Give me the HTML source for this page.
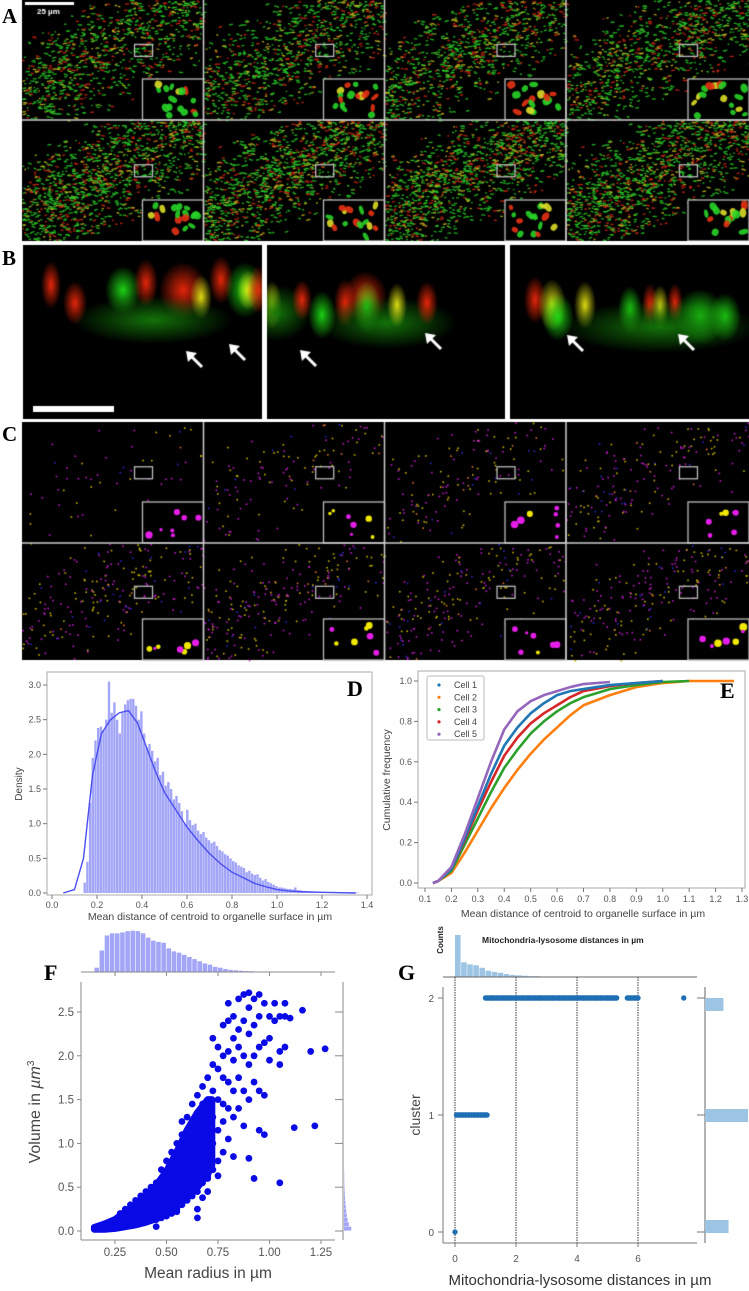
<!DOCTYPE html>
<html><head><meta charset="utf-8">
<style>
html,body{margin:0;padding:0;background:#fff;}
#wrap{position:relative;width:749px;height:1291px;overflow:hidden;font-family:"Liberation Sans",sans-serif;}
canvas{position:absolute;left:0;top:0;}
svg{position:absolute;left:0;top:0;}
.lbl{position:absolute;font-family:"Liberation Serif",serif;font-weight:bold;font-size:21px;color:#000;}
</style></head>
<body>
<div id="wrap">
<canvas id="img" width="749" height="665"></canvas>
<svg id="ch" width="749" height="1291" xmlns="http://www.w3.org/2000/svg"></svg>
<div class="lbl" style="left:2px;top:4px">A</div>
<div class="lbl" style="left:2px;top:246px">B</div>
<div class="lbl" style="left:2px;top:422px">C</div>
<div class="lbl" style="left:347px;top:676px;font-size:22px">D</div>
<div class="lbl" style="left:720px;top:678px;font-size:22px">E</div>
<div class="lbl" style="left:44px;top:960px;font-size:22px">F</div>
<div class="lbl" style="left:398px;top:960px;font-size:22px">G</div>
</div>
<script>
// ---------- chart data ----------
const dBinStart = 0.14, dBinW = 0.012;
const dDensity = [0.15,0.45,1.3,1.95,2.2,2.38,2.4,2.35,2.5,3.05,2.6,2.75,2.5,2.3,2.6,2.72,2.78,2.8,2.8,2.7,2.5,2.62,2.3,2.1,2.15,2.05,1.9,1.95,1.7,1.75,1.55,1.6,1.5,1.35,1.4,1.3,1.18,1.0,1.2,1.05,0.98,1.0,0.9,0.85,0.88,0.8,0.76,0.72,0.74,0.68,0.62,0.6,0.56,0.54,0.5,0.46,0.44,0.4,0.38,0.36,0.3,0.32,0.28,0.26,0.27,0.22,0.18,0.2,0.16,0.14,0.12,0.1,0.08,0.08,0.07,0.06,0.06,0.05,0.08,0.04,0.04,0.03,0.03,0.02,0.02,0.02,0.01,0.01,0.01,0.01,0.01,0.01,0.01,0.01,0.01,0.01,0.01,0.01,0.01,0.01,0.01,0.01];
const dKdeX = [0.05,0.1,0.14,0.18,0.22,0.26,0.3,0.34,0.38,0.42,0.46,0.5,0.55,0.6,0.65,0.7,0.75,0.8,0.85,0.9,0.95,1.0,1.05,1.1,1.2,1.35];
const dKdeY = [0,0.05,0.5,1.7,2.3,2.5,2.6,2.63,2.45,2.1,1.75,1.45,1.2,0.95,0.75,0.57,0.42,0.3,0.22,0.14,0.09,0.05,0.03,0.02,0.01,0];
const dXTicks = [0.0,0.2,0.4,0.6,0.8,1.0,1.2,1.4];
const dYTicks = [0.0,0.5,1.0,1.5,2.0,2.5,3.0];

const eNames = ["Cell 1","Cell 2","Cell 3","Cell 4","Cell 5"];
const eColors = ["#1f77b4","#ff7f0e","#2ca02c","#d62728","#9467bd"];
const eX = [0.13,0.15,0.2,0.25,0.3,0.35,0.4,0.45,0.5,0.55,0.6,0.65,0.7,0.8,0.9,1.0,1.1,1.27];
const eCell1 = [0,0.01,0.07,0.22,0.38,0.54,0.68,0.77,0.84,0.89,0.93,0.95,0.96,0.98,0.99,1,1,1];
const eCell2 = [0,0.01,0.05,0.15,0.26,0.37,0.47,0.56,0.64,0.71,0.77,0.83,0.88,0.93,0.97,0.99,1,1];
const eCell3 = [0,0.01,0.06,0.19,0.32,0.45,0.57,0.66,0.74,0.8,0.85,0.89,0.92,0.96,0.98,0.995,1,1];
const eCell4 = [0,0.01,0.07,0.21,0.36,0.5,0.63,0.72,0.79,0.84,0.88,0.92,0.95,0.975,0.99,1,1,1];
const eCell5 = [0,0.01,0.08,0.24,0.42,0.6,0.76,0.85,0.9,0.93,0.95,0.97,0.985,0.995,1,1,1,1];
const eEnd = [1.05,1.27,1.16,1.07,0.87];
const eXTicks = [0.1,0.2,0.3,0.4,0.5,0.6,0.7,0.8,0.9,1.0,1.1,1.2,1.3];
const eYTicks = [0.0,0.2,0.4,0.6,0.8,1.0];

const fRadius = [0.15,0.175,0.2,0.225,0.25,0.275,0.3,0.325,0.35,0.375,0.4,0.425,0.45,0.475,0.5,0.525,0.55,0.575,0.6,0.625,0.65,0.675,0.7,0.725,0.75,0.775,0.8,0.825,0.85,0.875,0.9,0.925,0.95,0.975,1.0,1.025,1.05,1.075,1.1,1.12,1.16,1.2,1.22,1.27];
const fVolume = [[0.02,0.03],[0.02,0.04],[0.03,0.05,0.07],[0.04,0.07,0.1],[0.05,0.09,0.13],[0.06,0.11,0.16,0.2],[0.07,0.13,0.19,0.25],[0.08,0.15,0.22,0.3],[0.09,0.17,0.26,0.35],[0.1,0.2,0.3,0.4],[0.11,0.22,0.33,0.45],[0.12,0.25,0.37,0.5],[0.13,0.27,0.41,0.55,0.05],[0.15,0.3,0.45,0.6,0.7],[0.17,0.33,0.5,0.66,0.8],[0.2,0.37,0.55,0.72,0.9],[0.25,0.42,0.6,0.8,1.0,0.22],[0.3,0.48,0.67,0.87,1.1,1.25],[0.35,0.55,0.75,0.95,1.15,1.3],[0.4,0.6,0.82,1.05,1.25,1.45],[0.45,0.68,0.9,1.12,1.35,1.55,0.15,0.25],[0.55,0.75,1.0,1.2,1.45,1.65,0.38],[0.6,0.85,1.1,1.4,1.75,0.62,0.45],[0.7,1.0,1.3,1.6,1.9,2.2],[0.63,0.8,1.15,1.5,1.85,2.1],[0.9,1.25,1.45,1.75,2.0,2.35],[1.05,1.4,1.7,2.05,2.4,2.6],[0.85,1.3,1.6,1.95,2.2,2.45],[1.4,1.75,2.1,2.3,2.65],[1.2,1.6,2.0,2.4,2.7],[0.83,1.5,1.9,2.25,2.55,2.72],[0.6,1.7,2.0,2.35,2.65],[1.15,1.6,2.1,2.45,2.7],[1.1,1.55,2.15,2.6],[1.95,2.2,2.45],[2.6,2.4],[1.9,2.05,2.45,0.55],[2.1,2.45,2.6],[2.43],[1.18],[2.52],[2.05],[1.2],[2.08]];
const fBandR  = [0.15,0.2,0.25,0.3,0.35,0.4,0.45,0.5,0.55,0.6,0.65,0.7,0.72];
const fBandLo = [0.02,0.02,0.03,0.05,0.07,0.1,0.14,0.2,0.28,0.38,0.5,0.65,0.75];
const fBandHi = [0.04,0.08,0.13,0.22,0.3,0.4,0.52,0.68,0.9,1.15,1.35,1.5,1.5];
const fTopBinStart = 0.15, fTopBinW = 0.025;
const fTopCounts = [0.1,0.5,0.85,0.9,0.9,0.92,0.95,0.96,0.95,0.9,0.8,0.73,0.7,0.68,0.55,0.48,0.45,0.4,0.35,0.3,0.25,0.2,0.17,0.12,0.1,0.07,0.05,0.04,0.03,0.02,0.02,0.01];
const fRightBinStart = 0.0, fRightBinW = 0.05;
const fRightCounts = [0.9,0.6,0.45,0.35,0.28,0.22,0.17,0.13,0.1,0.07,0.05,0.04,0.03,0.02];
const fXTicks = [0.25,0.5,0.75,1.0,1.25];
const fXTickLabels = ["0.25","0.50","0.75","1.00","1.25"];
const fYTicks = [0.0,0.5,1.0,1.5,2.0,2.5];

const gCluster2 = [1.0,1.2,1.4,1.6,1.8,2.0,2.2,2.4,2.6,2.8,3.0,3.2,3.4,3.6,3.8,4.0,4.2,4.4,4.6,4.8,5.0,5.1,5.2,5.3,5.65,5.75,5.9,6.0,7.5];
const gCluster1 = [0.05,0.15,0.25,0.35,0.45,0.55,0.65,0.75,0.85,0.95,1.05];
const gCluster0 = [0.0];
const gTopBinStart = 0, gTopBinW = 0.2;
const gTopCounts = [1.0,0.35,0.3,0.28,0.22,0.15,0.12,0.1,0.07,0.05,0.04,0.03,0.02,0.02,0.01,0.01];
const gClusterIds = [0,1,2];
const gClusterCounts = [23,42,18];
const gXTicks = [0,2,4,6];
const gYTicks = [0,1,2];

// ---------- helpers ----------
const NS="http://www.w3.org/2000/svg";
const svg=document.getElementById('ch');
function el(tag,attrs,parent){const e=document.createElementNS(NS,tag);for(const k in attrs)e.setAttribute(k,attrs[k]);(parent||svg).appendChild(e);return e;}
function txt(x,y,s,attrs){const t=el('text',Object.assign({x:x,y:y},attrs||{}));t.textContent=s;return t;}
function lin(d0,d1,p0,p1){return v=>p0+(v-d0)/(d1-d0)*(p1-p0);}

// ---------- Panel D ----------
(function(){
 const g=el('g',{});
 
 
 const X=lin(0,1.4,52,367), Y=lin(0,3.0,893,685);
 el('rect',{x:47,y:672,width:325,height:223,fill:'#fff',stroke:'#aaa','stroke-width':1},g);
 dDensity.forEach((v,i)=>{const x0=X(dBinStart+i*dBinW),x1=X(dBinStart+(i+1)*dBinW);
  const r=el('rect',{x:x0,y:Y(v),width:Math.max(0.5,x1-x0-0.3),height:Y(0)-Y(v),fill:'#a3a5f7'},g);
  });
 const p=el('polyline',{points:dKdeX.map((x,i)=>X(x)+','+Y(dKdeY[i])).join(' '),fill:'none',stroke:'#4b4ff0','stroke-width':1.4},g);
 
 dXTicks.forEach(t=>{el('line',{x1:X(t),x2:X(t),y1:895,y2:899,stroke:'#777'},g);
  txt(X(t),908,t.toFixed(1),{'font-size':9,fill:'#555','text-anchor':'middle'});});
 dYTicks.forEach(t=>{el('line',{x1:43,x2:47,y1:Y(t),y2:Y(t),stroke:'#777'},g);
  txt(41,Y(t)+3,t.toFixed(1),{'font-size':9,fill:'#555','text-anchor':'end'});});
 const yl=txt(22,784,'Density',{'font-size':10,fill:'#444','text-anchor':'middle',transform:'rotate(-90 22 784)'});
 
 const xl=txt(210,920,'Mean distance of centroid to organelle surface in µm',{'font-size':10.5,fill:'#444','text-anchor':'middle'});
 
})();

// ---------- Panel E ----------
(function(){
 const g=el('g',{});
 
 
 const X=lin(0.1,1.3,425,742), Y=lin(0,1,883,681);
 el('rect',{x:418,y:671,width:327,height:217,fill:'#fff',stroke:'#aaa','stroke-width':1},g);
 const cells=[eCell1,eCell2,eCell3,eCell4,eCell5];
 const order=[1,2,3,0,4];
 order.forEach(ci=>{const ys=cells[ci];const pts=[];
  eX.forEach((x,i)=>{if(x<=eEnd[ci]+0.001)pts.push(X(x)+','+Y(ys[i]));});
  const pl=el('polyline',{points:pts.join(' '),fill:'none',stroke:eColors[ci],'stroke-width':2.6,'stroke-linejoin':'round'},g);
  
  });
 eXTicks.forEach(t=>{el('line',{x1:X(t),x2:X(t),y1:888,y2:892,stroke:'#777'},g);
  txt(X(t),902,t.toFixed(1),{'font-size':9,fill:'#555','text-anchor':'middle'});});
 eYTicks.forEach(t=>{el('line',{x1:414,x2:418,y1:Y(t),y2:Y(t),stroke:'#777'},g);
  txt(412,Y(t)+3,t.toFixed(1),{'font-size':9,fill:'#555','text-anchor':'end'});});
 const lg=el('g',{},g);
 el('rect',{x:427,y:676,width:57,height:64,fill:'#fff',stroke:'#bbb',rx:2},lg);
 eNames.forEach((n,i)=>{const yy=688+i*12.3;
  const d=el('circle',{cx:439,cy:yy-3,r:1.6,fill:eColors[i]},lg);
  
  const t=txt(454,yy,n,{'font-size':9,fill:'#444'});});
 const yl=txt(390,780,'Cumulative frequency',{'font-size':10.5,fill:'#444','text-anchor':'middle',transform:'rotate(-90 390 780)'});
 
 const xl=txt(583,917,'Mean distance of centroid to organelle surface in µm',{'font-size':10.5,fill:'#444','text-anchor':'middle'});
 
})();

// ---------- Panel F ----------
(function(){
 const g=el('g',{});
 
 
 const X=lin(0.25,1.25,115,321), Y=lin(0,2.5,1231,1012);
 const TH=lin(0,1,972,929);
 fTopCounts.forEach((v,i)=>{const x0=X(fTopBinStart+i*fTopBinW),x1=X(fTopBinStart+(i+1)*fTopBinW);
  const r=el('rect',{x:x0,y:TH(v),width:x1-x0-0.6,height:972-TH(v),fill:'#a3a5f7'},g);
  });
 el('line',{x1:81,x2:335,y1:972,y2:972,stroke:'#888'},g);
 fXTicks.forEach(t=>el('line',{x1:X(t),x2:X(t),y1:972,y2:976,stroke:'#888'},g));
 const RW=lin(0,1,344,352);
 fRightCounts.forEach((v,i)=>{const y0=Y(fRightBinStart+i*fRightBinW),y1=Y(fRightBinStart+(i+1)*fRightBinW);
  const r=el('rect',{x:344,y:y1,width:RW(v)-344,height:y0-y1-0.4,fill:'#a3a5f7'},g);
  });
 el('line',{x1:343,x2:343,y1:982,y2:1240,stroke:'#888'},g);
 el('line',{x1:81,x2:81,y1:982,y2:1240,stroke:'#888'},g);
 el('line',{x1:81,x2:335,y1:1240,y2:1240,stroke:'#888'},g);
 fYTicks.forEach(t=>{el('line',{x1:77,x2:81,y1:Y(t),y2:Y(t),stroke:'#888'},g);el('line',{x1:335,x2:343,y1:Y(t),y2:Y(t),stroke:'#888'},g);
  txt(74,Y(t)+4,t.toFixed(1),{'font-size':11.5,fill:'#555','text-anchor':'end'});});
 fXTicks.forEach((t,i)=>{el('line',{x1:X(t),x2:X(t),y1:1240,y2:1244,stroke:'#888'},g);
  txt(X(t),1256,fXTickLabels[i],{'font-size':11.5,fill:'#555','text-anchor':'middle'});});
 const bandPts=fBandR.map((r,i)=>X(r)+','+Y(fBandHi[i])).concat(fBandR.slice().reverse().map((r,j)=>X(r)+','+Y(fBandLo[fBandR.length-1-j])));
 const band=el('polygon',{points:bandPts.join(' '),fill:'#0a0ae6',stroke:'#0a0ae6','stroke-width':7,'stroke-linejoin':'round'},g);
 
 fRadius.forEach((r,i)=>fVolume[i].forEach(v=>{
  const c=el('circle',{cx:X(r),cy:Y(v),r:3.4,fill:'#0a0ae6'},g);
  }));
 const yl=el('text',{x:40,y:1112,'font-size':16,fill:'#444','text-anchor':'middle',transform:'rotate(-90 40 1112)'},g);
 yl.innerHTML='Volume in <tspan font-style="italic">µm</tspan><tspan dy="-6" font-size="10">3</tspan>';
 
 const xl=txt(208,1278,'Mean radius in µm',{'font-size':15.5,fill:'#444','text-anchor':'middle'});
 
})();

// ---------- Panel G ----------
(function(){
 const g=el('g',{});
 
 
 const X=lin(0,6,455,638), Y=lin(0,2,1232,998);
 const TH=lin(0,1,977,935);
 gTopCounts.forEach((v,i)=>{const x0=X(gTopBinStart+i*gTopBinW),x1=X(gTopBinStart+(i+1)*gTopBinW);
  const r=el('rect',{x:x0,y:TH(v),width:x1-x0-0.5,height:977-TH(v),fill:'#9ec4e4'},g);
  });
 el('line',{x1:443,x2:697,y1:977,y2:977,stroke:'#666'},g);
 const ct=txt(443,940,'Counts',{'font-size':8,'font-weight':'bold',fill:'#222','text-anchor':'middle',transform:'rotate(-90 443 940)'});
 
 const tt=txt(482,943,'Mitochondria-lysosome distances in µm',{'font-size':8.5,'font-weight':'bold',fill:'#222'});
 
 gXTicks.forEach(t=>el('line',{x1:X(t),x2:X(t),y1:977,y2:1243,stroke:'#222','stroke-dasharray':'1.5,1','stroke-width':0.9},g));
 el('line',{x1:443,x2:443,y1:987,y2:1243,stroke:'#777'},g);
 el('line',{x1:443,x2:697,y1:1243,y2:1243,stroke:'#777'},g);
 gYTicks.forEach(t=>{el('line',{x1:438,x2:443,y1:Y(t),y2:Y(t),stroke:'#777'},g);
  txt(434,Y(t)+4,String(t),{'font-size':10,fill:'#555','text-anchor':'end'});});
 gXTicks.forEach(t=>{el('line',{x1:X(t),x2:X(t),y1:1243,y2:1247,stroke:'#777'},g);
  txt(X(t),1262,String(t),{'font-size':10,fill:'#555','text-anchor':'middle'});});
 [[gCluster0,0],[gCluster1,1],[gCluster2,2]].forEach(([arr,cy])=>{
  arr.forEach((x,i)=>{
   const c=el('circle',{cx:X(x),cy:Y(cy),r:2.7,fill:'#1f6fb4'},g);
   
   if(i>0&&x-arr[i-1]<=0.25){const l=el('line',{x1:X(arr[i-1]),x2:X(x),y1:Y(cy),y2:Y(cy),stroke:'#1f6fb4','stroke-width':5.4},g);
    }
  });});
 el('line',{x1:705,x2:705,y1:987,y2:1243,stroke:'#666'},g);
 const RW=lin(0,42,705,748);
 const off=[-12,-6,0];
 gClusterIds.forEach((c,i)=>{el('line',{x1:697,x2:705,y1:Y(c),y2:Y(c),stroke:'#777'},g);
  const r=el('rect',{x:705,y:Y(c)+off[i],width:RW(gClusterCounts[i])-705,height:13,fill:'#9ec4e4'},g);
  });
 const yl=txt(420,1115,'cluster',{'font-size':14,fill:'#444','text-anchor':'middle',transform:'rotate(-90 420 1115)'});
 
 const xl=txt(580,1285,'Mitochondria-lysosome distances in µm',{'font-size':15,fill:'#333','text-anchor':'middle'});
 
})();

// ---------- microscopy images (decorative texture) ----------
(function(){
 const cv=document.getElementById('img'),c=cv.getContext('2d');
 let s=12345;function rnd(){s=(s*1103515245+12345)&0x7fffffff;return s/0x7fffffff;}
 c.fillStyle='#fff';c.fillRect(0,0,749,665);
 const cols=[22,203.5,384.5,566,749];
 function grid(y0,y1,y2,kind){
  c.fillStyle='#000';c.fillRect(22,y0,727,y2-y0);
  for(let r=0;r<2;r++)for(let k=0;k<4;k++){
   const px=cols[k],py=r?y1:y0,w=cols[k+1]-cols[k],h=(r?y2:y1)-py;
   const dens=kind==='A'?(r?1.2:0.9):(r?1.0:0.45)*(k===0&&r===0?0.6:1)+(r?0:k*0.12);
   const n=Math.floor((kind==='A'?2200:500)*dens);
   for(let i=0;i<n;i++){
    const u=rnd(),v=rnd();
    const dist=Math.abs((1-v)-(u*0.8+0.2));
    if(rnd()<dist*1.9)continue;
    const x=px+u*w,y=py+v*h;
    if(kind==='A'){const q=rnd();c.fillStyle=q<0.6?'rgba(40,200,40,0.85)':(q<0.85?'rgba(210,40,20,0.85)':'rgba(200,190,30,0.85)');
     c.save();c.translate(x,y);c.rotate(-0.4+rnd()*0.8);c.fillRect(0,0,1.5+rnd()*3,1.4);c.restore();}
    else{const q=rnd();c.fillStyle=q<0.45?'#c01cc8':(q<0.85?'#c8b400':(q<0.95?'#2a2ad0':'#e07030'));
     c.fillRect(x,y,1.6,1.6);}
   }
   const ix=px+w-61,iy=py+h-41;
   c.fillStyle='#000';c.fillRect(ix,iy,61,41);
   if(kind==='A'){
    for(let i=0;i<16;i++){const q=rnd();c.fillStyle=q<0.5?'rgba(40,210,40,0.9)':(q<0.8?'rgba(230,50,20,0.9)':'rgba(220,220,40,0.9)');
     c.beginPath();c.ellipse(ix+5+rnd()*52,iy+5+rnd()*32,2.5+rnd()*2.5,2+rnd()*2,rnd()*3,0,7);c.fill();}
   }else{
    for(let i=0;i<7;i++){const q=rnd();c.fillStyle=(q<0.6||(r===0&&k===0))?'#e41ee8':'#f0e800';
     c.beginPath();c.arc(ix+6+rnd()*50,iy+6+rnd()*30,1.5+rnd()*2.5,0,7);c.fill();}
   }
   c.strokeStyle='#bbb';c.lineWidth=1.3;c.strokeRect(ix,iy,61,41);
   c.strokeRect(px+w*0.62,py+h*0.37,18,12);
  }
  c.strokeStyle='#ccc';c.lineWidth=1.5;
  for(let k=1;k<4;k++){c.beginPath();c.moveTo(cols[k],y0);c.lineTo(cols[k],y2);c.stroke();}
  c.beginPath();c.moveTo(22,y1);c.lineTo(749,y1);c.stroke();
 }
 grid(0,120,241,'A');
 c.fillStyle='#fff';c.fillRect(25,2,49,3);
 c.font='bold 8px "Liberation Sans",sans-serif';c.fillText('25 µm',37,14);
 c.fillStyle='#fff';c.fillRect(22,241,727,4);
 const bp=[[23,262],[267,505],[510,749]];
 const blobs=[
  [[28,40,10,24,'r'],[52,58,12,22,'r'],[100,45,18,24,'g'],[123,38,12,24,'r'],[160,45,24,28,'r'],[178,52,11,22,'y'],[198,35,12,24,'r'],[222,45,20,28,'g'],[225,45,11,20,'y'],[235,45,11,24,'r'],[130,75,80,24,'gd']],
  [[5,60,10,24,'y'],[10,68,34,28,'gd'],[35,55,10,20,'r'],[55,70,14,24,'g'],[78,58,11,24,'r'],[98,52,22,26,'r'],[100,62,14,26,'g'],[120,78,70,26,'gd'],[130,60,10,22,'y'],[160,58,11,22,'r']],
  [[25,55,11,24,'r'],[42,60,14,26,'y'],[48,72,16,24,'g'],[75,60,11,24,'y'],[120,65,12,24,'g'],[140,60,8,22,'r'],[150,62,9,22,'y'],[165,58,8,20,'r'],[190,72,26,28,'g'],[215,72,16,24,'g'],[150,82,100,26,'gd']]
 ];
 const colMap={r:'rgba(240,40,10,',g:'rgba(30,220,20,',y:'rgba(230,230,20,',gd:'rgba(20,120,10,'};
 bp.forEach((b,i)=>{c.fillStyle='#000';c.fillRect(b[0],245,b[1]-b[0],175);
  c.save();c.beginPath();c.rect(b[0],245,b[1]-b[0],175);c.clip();
  blobs[i].forEach(([x,y,rx,ry,col])=>{const cx=b[0]+x,cy=245+y;
   c.save();c.translate(cx,cy);c.scale(rx/20,ry/20);
   const gr=c.createRadialGradient(0,0,0,0,0,20);gr.addColorStop(0,colMap[col]+'0.95)');gr.addColorStop(1,colMap[col]+'0)');
   c.fillStyle=gr;c.beginPath();c.arc(0,0,20,0,7);c.fill();c.restore();});
  c.restore();});
 c.fillStyle='#fff';c.fillRect(262,245,5,175);c.fillRect(505,245,5,175);c.fillRect(22,419,727,3);
 c.fillRect(33,406,81,6);
 function arrow(x,y){c.strokeStyle='#fff';c.lineWidth=3;c.beginPath();c.moveTo(x+16,y+16);c.lineTo(x+3,y+3);c.stroke();
  c.fillStyle='#fff';c.beginPath();c.moveTo(x,y);c.lineTo(x+11,y+2);c.lineTo(x+2,y+11);c.closePath();c.fill();}
 arrow(186,351);arrow(229,344);arrow(300,350);arrow(425,333);arrow(567,335);arrow(678,334);
 grid(422,543,660,'C');
})();
</script>
</body></html>
